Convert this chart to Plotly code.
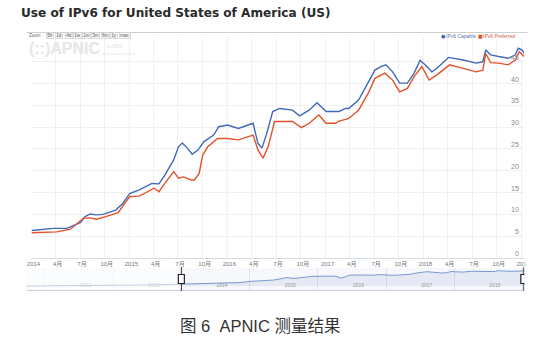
import plotly.graph_objects as go

W, H = 550, 352


def px(x):
    return x / W


def py(y):
    return 1 - y / H


TITLE = "Use of IPv6 for United States of America (US)"
CAPTION = "图 6\u00a0 APNIC 测量结果"
SERIES_NAMES = ["IPv6 Capable", "IPv6 Preferred"]

CAPABLE_DATES = [
    "2014-01-01", "2014-03-25", "2014-05-12", "2014-07-02", "2014-07-20", "2014-08-08",
    "2014-08-30", "2014-09-25", "2014-11-11", "2014-12-07", "2015-01-02", "2015-02-07",
    "2015-03-26", "2015-04-21", "2015-05-13", "2015-06-15", "2015-07-03", "2015-07-17",
    "2015-08-05", "2015-08-23", "2015-09-14", "2015-10-06", "2015-11-11", "2015-11-30",
    "2016-01-02", "2016-02-11", "2016-04-06", "2016-04-24", "2016-05-09", "2016-05-27",
    "2016-06-18", "2016-07-14", "2016-08-31", "2016-09-26", "2016-11-01", "2016-11-30",
    "2017-01-03", "2017-01-25", "2017-02-20", "2017-03-17", "2017-03-28", "2017-05-04",
    "2017-06-09", "2017-07-04", "2017-07-26", "2017-08-14", "2017-09-08", "2017-10-04",
    "2017-11-02", "2017-11-27", "2017-12-19", "2018-01-07", "2018-02-01", "2018-02-20",
    "2018-04-04", "2018-05-29", "2018-07-16", "2018-08-10", "2018-08-21", "2018-09-08",
    "2018-10-08", "2018-11-13", "2018-12-09", "2018-12-20", "2019-01-04", "2019-01-11",
]
CAPABLE_VALUES = [
    6.3, 6.8, 6.8, 8.1, 9.5, 10.1,
    9.9, 10.0, 11.0, 12.5, 14.8, 15.6,
    17.1, 17.0, 19.0, 22.5, 25.5, 26.4,
    25.2, 23.8, 24.8, 26.7, 28.2, 30.1,
    30.5, 29.7, 30.9, 26.3, 25.2, 28.6,
    33.6, 34.3, 33.9, 32.6, 33.9, 35.6,
    33.6, 33.6, 33.6, 34.3, 34.3, 36.2,
    40.1, 43.1, 43.9, 44.3, 42.7, 40.1,
    40.1, 42.4, 45.3, 44.3, 42.7, 43.5,
    46.0, 45.4, 44.7, 45.0, 47.7, 46.6,
    46.2, 45.8, 46.6, 48.1, 47.7, 46.9,
]

PREFERRED_DATES = [
    "2014-01-01", "2014-04-05", "2014-05-26", "2014-07-13", "2014-08-08", "2014-08-30",
    "2014-09-25", "2014-11-20", "2015-01-02", "2015-02-07", "2015-04-03", "2015-04-21",
    "2015-05-13", "2015-06-15", "2015-07-03", "2015-07-21", "2015-08-20", "2015-08-31",
    "2015-09-18", "2015-10-01", "2015-10-20", "2015-11-26", "2016-01-02", "2016-02-11",
    "2016-04-06", "2016-04-24", "2016-05-13", "2016-06-01", "2016-06-25", "2016-08-09",
    "2016-08-31", "2016-10-03", "2016-11-01", "2016-12-07", "2017-01-03", "2017-02-07",
    "2017-02-20", "2017-03-17", "2017-03-28", "2017-05-04", "2017-06-09", "2017-07-04",
    "2017-08-10", "2017-09-08", "2017-10-04", "2017-11-02", "2017-11-27", "2017-12-26",
    "2018-01-22", "2018-02-20", "2018-04-08", "2018-05-29", "2018-07-16", "2018-08-10",
    "2018-08-21", "2018-09-08", "2018-10-08", "2018-11-13", "2018-12-09", "2018-12-24",
    "2019-01-11",
]
PREFERRED_VALUES = [
    5.8, 6.0, 6.6, 9.1, 9.2, 8.9,
    9.3, 10.4, 14.1, 14.2, 16.0, 15.2,
    17.1, 19.8, 18.3, 18.6, 17.9, 17.9,
    19.4, 23.6, 25.5, 27.4, 27.4, 27.1,
    28.2, 24.8, 22.9, 25.5, 31.3, 31.4,
    31.3, 29.9, 30.9, 32.8, 30.9, 30.9,
    31.4, 31.8, 32.0, 33.9, 37.8, 41.2,
    42.4, 40.8, 38.1, 38.9, 41.6, 43.9,
    40.8, 42.0, 44.3, 43.5, 42.7, 43.1,
    46.9, 44.8, 44.7, 44.3, 45.4, 47.3,
    46.2,
]

# earlier history shown only in the navigator
NAV_EARLY_DATES = [
    "2011-09-25", "2011-12-01", "2012-03-01", "2012-06-10", "2012-09-01",
    "2012-12-01", "2013-03-01", "2013-06-01", "2013-09-01", "2013-12-15",
]
NAV_EARLY_VALUES = [0.4, 0.5, 0.8, 1.5, 2.2, 2.6, 3.0, 3.5, 4.3, 5.6]

X_TICK_DATES = []
X_TICK_LABELS = []
for yr in range(2014, 2019):
    for m, lab in [(1, str(yr)), (4, "4月"), (7, "7月"), (10, "10月")]:
        X_TICK_DATES.append(f"{yr}-{m:02d}-01")
        X_TICK_LABELS.append(lab)
X_TICK_DATES.append("2019-01-01")
X_TICK_LABELS.append("2019")

YEAR_LINES = ["2015-01-01", "2016-01-01", "2017-01-01", "2018-01-01"]
Y_TICKS = [0, 5, 10, 15, 20, 25, 30, 35, 40, 45]

NAV_YEARS = ["2012", "2013", "2014", "2015", "2016", "2017", "2018"]
NAV_LABEL_DATES = [f"{y}-08-07" for y in NAV_YEARS]

ZOOM_BUTTONS = ["5h", "1d", "4d", "1w", "1m", "3m", "6m", "1y", "max"]
ZOOM_BUTTON_X = [46, 55.5, 65.5, 74, 83.5, 92.5, 102.5, 111, 122]

VIEW_START, VIEW_END = "2014-01-01", "2019-01-12"
NAV_START = "2011-09-25"

BLUE = "#4169b9"
RED = "#e2522b"

fig = go.Figure()

fig.add_trace(go.Scatter(
    x=CAPABLE_DATES, y=CAPABLE_VALUES, mode="lines", name=SERIES_NAMES[0],
    line=dict(color=BLUE, width=1.4), xaxis="x", yaxis="y", showlegend=False))
fig.add_trace(go.Scatter(
    x=PREFERRED_DATES, y=PREFERRED_VALUES, mode="lines", name=SERIES_NAMES[1],
    line=dict(color=RED, width=1.4), xaxis="x", yaxis="y", showlegend=False))

fig.add_trace(go.Scatter(
    x=NAV_EARLY_DATES + CAPABLE_DATES, y=NAV_EARLY_VALUES + CAPABLE_VALUES,
    mode="lines", line=dict(color="#5b82c4", width=0.8), fill="tozeroy",
    fillcolor="rgba(70,110,180,0.10)", xaxis="x2", yaxis="y2",
    showlegend=False, hoverinfo="skip"))

fig.update_layout(
    width=W, height=H,
    margin=dict(l=0, r=0, t=0, b=0),
    paper_bgcolor="white", plot_bgcolor="white",
    showlegend=False,
    xaxis=dict(
        domain=[px(27), px(530)], range=[VIEW_START, VIEW_END], anchor="y",
        tickmode="array", tickvals=X_TICK_DATES, ticktext=X_TICK_LABELS,
        tickfont=dict(family="Liberation Sans, Noto Sans CJK SC", size=6, color="#777"),
        ticklabelshift=2,
        showgrid=True, gridcolor="#f1f1f1", gridwidth=1,
        showline=True, linecolor="#d6dce4", linewidth=1,
        zeroline=False, ticks="", fixedrange=True,
    ),
    yaxis=dict(
        domain=[py(258), py(37.8)], range=[0, 50.5], anchor="x",
        side="right", tickmode="array", tickvals=Y_TICKS, showticklabels=False,
        showgrid=True, gridcolor="#efefef", gridwidth=1,
        zeroline=False, showline=False, ticks="", fixedrange=True,
    ),
    xaxis2=dict(
        domain=[px(22), px(530)], range=[NAV_START, VIEW_END], anchor="y2",
        tickmode="array", tickvals=NAV_LABEL_DATES, ticktext=NAV_YEARS,
        ticklabelposition="inside",
        tickfont=dict(family="Liberation Sans", size=5, color="#999"),
        showgrid=False, zeroline=False, ticks="",
        showline=True, linecolor="#c9d1dc", linewidth=1,
        minor=dict(dtick="M12", tick0="2012-01-01", showgrid=True,
                   gridcolor="#dfe5ec", gridwidth=1, ticks=""),
    ),
    yaxis2=dict(
        domain=[py(290), py(268)], range=[-12, 56], anchor="x2",
        visible=False, fixedrange=True,
    ),
)

shapes = []
# header divider
shapes.append(dict(type="line", xref="paper", yref="paper",
                   x0=px(22), x1=px(533), y0=py(32.5), y1=py(32.5),
                   line=dict(color="#cfcfcf", width=1)))
# year gridlines in main plot
for d in YEAR_LINES:
    shapes.append(dict(type="line", xref="x", yref="y domain", x0=d, x1=d, y0=0, y1=1,
                       line=dict(color="#dcdcdc", width=1), layer="below"))
# navigator background
shapes.append(dict(type="rect", xref="x2 domain", yref="y2 domain", x0=0, x1=1, y0=0, y1=1,
                   fillcolor="#f6f8fb", line=dict(width=0), layer="below"))
# mask outside selected range
shapes.append(dict(type="rect", xref="x2", yref="y2 domain", x0=NAV_START, x1=VIEW_START,
                   y0=0, y1=1, fillcolor="rgba(255,255,255,0.55)", line=dict(width=0),
                   layer="above"))
# handles
for d in [VIEW_START, "2019-01-09"]:
    shapes.append(dict(type="line", xref="x2", yref="paper", x0=d, x1=d,
                       y0=py(291), y1=py(267), line=dict(color="#333", width=1)))
    shapes.append(dict(type="rect", xref="x2", yref="paper", xsizemode="pixel", xanchor=d,
                       x0=-3, x1=3, y0=py(283.5), y1=py(274.5),
                       fillcolor="white", line=dict(color="#222", width=1.2)))
# clip of last x label at container edge
shapes.append(dict(type="rect", xref="paper", yref="paper", x0=px(531), x1=1,
                   y0=py(268), y1=py(259), fillcolor="white", line=dict(width=0),
                   layer="above"))
fig.update_layout(shapes=shapes)

ann = []
# y-axis labels (inside, right-aligned, just above each gridline)
for v in Y_TICKS:
    ann.append(dict(text=str(v), x=px(526), y=v, xref="paper", yref="y",
                    xanchor="right", yanchor="bottom", yshift=0, showarrow=False,
                    borderpad=0,
                    font=dict(family="Liberation Sans", size=7, color="#8a8a8a")))
ann.append(dict(text=TITLE, x=px(14), y=py(13.5), xref="paper", yref="paper",
                xanchor="left", yanchor="middle", showarrow=False,
                font=dict(family="DejaVu Sans", size=12.1, color="#2a2a2a", weight="bold")))
# watermark
ann.append(dict(text="(::)APNIC", x=px(22), y=py(49), xref="paper", yref="paper",
                xanchor="left", yanchor="middle", showarrow=False,
                font=dict(family="Liberation Sans", size=16, color="#e6e6e6", weight="bold")))
ann.append(dict(text="LABS", x=px(102), y=py(46), xref="paper", yref="paper",
                xanchor="left", yanchor="middle", showarrow=False,
                font=dict(family="Liberation Sans", size=6, color="#e2e2e2")))
ann.append(dict(text="stats.labs.apnic.net", x=px(96), y=py(53), xref="paper", yref="paper",
                xanchor="left", yanchor="middle", showarrow=False,
                font=dict(family="Liberation Sans", size=4, color="#e6e6e6")))
# range selector
ann.append(dict(text="Zoom", x=px(22), y=py(35.5), xref="paper", yref="paper",
                xanchor="left", yanchor="middle", showarrow=False,
                font=dict(family="Liberation Sans", size=4.5, color="#666")))
for lab, bx in zip(ZOOM_BUTTONS, ZOOM_BUTTON_X):
    ann.append(dict(text=lab, x=px(bx), y=py(35.5), xref="paper", yref="paper",
                    xanchor="center", yanchor="middle", showarrow=False,
                    bgcolor="#f7f7f7", bordercolor="#c8c8c8", borderwidth=0.6, borderpad=0.6,
                    font=dict(family="Liberation Sans", size=4.5, color="#555")))
# legend
ann.append(dict(text="●", x=px(443), y=py(36), xref="paper", yref="paper",
                xanchor="left", yanchor="middle", showarrow=False,
                font=dict(family="DejaVu Sans", size=5, color=BLUE)))
ann.append(dict(text=SERIES_NAMES[0], x=px(447.5), y=py(36), xref="paper", yref="paper",
                xanchor="left", yanchor="middle", showarrow=False,
                font=dict(family="Liberation Sans", size=5, color="#5a78b0")))
ann.append(dict(text="■", x=px(481), y=py(36), xref="paper", yref="paper",
                xanchor="left", yanchor="middle", showarrow=False,
                font=dict(family="DejaVu Sans", size=5, color=RED)))
ann.append(dict(text=SERIES_NAMES[1], x=px(485.5), y=py(36), xref="paper", yref="paper",
                xanchor="left", yanchor="middle", showarrow=False,
                font=dict(family="Liberation Sans", size=5, color="#d0603e")))
# caption
ann.append(dict(text=CAPTION, x=px(260), y=py(326), xref="paper", yref="paper",
                xanchor="center", yanchor="middle", showarrow=False,
                font=dict(family="Liberation Sans, Noto Sans CJK SC", size=16.5, color="#333")))
fig.update_layout(annotations=ann)

fig.write_html("out.html")
